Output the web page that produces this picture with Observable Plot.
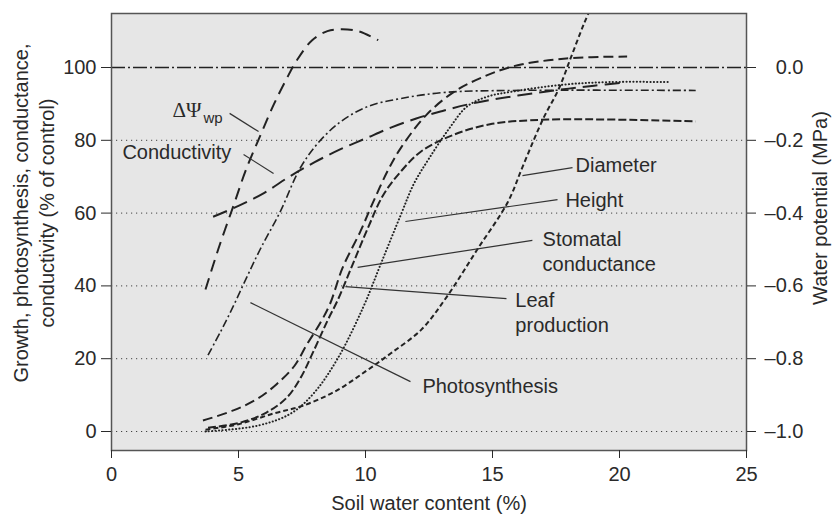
<!DOCTYPE html>
<html>
<head>
<meta charset="utf-8">
<script src="https://cdn.jsdelivr.net/npm/d3@7"></script>
<script src="https://cdn.jsdelivr.net/npm/@observablehq/plot@0.6"></script>
<style>
  html, body { margin: 0; padding: 0; background: #fff; }
</style>
</head>
<body>
<div id="chart"></div>
<script>
// ---- tick values ----
const xTicks = [0, 5, 10, 15, 20, 25];
const yTicks = [0, 20, 40, 60, 80, 100];
const gridTicks = [0, 20, 40, 60, 80];
const controlLevel = [100];

// ---- series: [soil water content %, % of control] ----
const deltaPsiWp = [[3.7,39],[4.2,50],[4.8,62],[5.3,72],[5.9,82],[6.4,90],[6.9,97],[7.3,102],[7.9,107.5],[8.5,110],[9.0,110.5],[9.7,110],[10.5,107.5]];
const conductivity = [[4,59],[5,62],[6,65.5],[7,70],[8,74],[9,77.5],[10,80.5],[11,83.5],[12,86],[13,88],[14,89.8],[15,91.2],[16,92.3],[17,93.3],[18,94.2],[19,95],[20.1,95.8]];
const photosynthesis = [[3.8,21],[4.3,27.5],[4.8,34.5],[5.3,42],[5.85,50],[6.65,60.5],[7.4,72],[8.1,79],[9,85],[10.1,89.3],[11.4,91.5],[13.2,93.2],[15.8,93.7],[23,93.7]];
const stomatalConductance = [[3.6,3],[4.8,5.8],[5.75,9],[6.5,13],[7.2,18],[7.7,24],[8.2,29.6],[8.6,35],[9.1,45],[9.8,55],[10.3,63],[10.9,72],[11.4,78],[12.4,87],[13.5,93.4],[14.5,97],[15.8,100.3],[17.9,102.5],[20.3,103]];
const leafProduction = [[3.8,1],[5.1,2.5],[6.1,5.2],[6.9,9.3],[7.45,14.8],[7.95,22],[8.5,30.4],[8.9,36],[9.5,46],[10.1,56],[10.7,65],[11.4,71.5],[12.2,77],[13.5,81.6],[14.9,84.4],[17.2,85.7],[23,85.2]];
const height = [[3.7,0],[5.75,1.6],[7.05,4.9],[7.95,10.4],[8.9,20],[9.9,34],[10.6,46],[11.4,59.7],[11.9,68],[12.5,75],[13.3,83.3],[14,89.3],[14.8,92],[15.8,93.4],[17.8,95.3],[19.6,96],[22,96]];
const diameter = [[3.7,0.5],[5,2],[6.4,5],[7.5,7],[8.8,11],[10,16.5],[11,21.5],[12.2,28],[13.2,37],[14.4,50],[15.6,63],[16.2,73],[17,86],[17.6,94],[18.1,103],[18.6,112],[19.1,120]];

// ---- annotation labels and leader lines (data coordinates) ----
const labelText = ["Conductivity", "Diameter", "Height", "Stomatal\nconductance", "Leaf\nproduction", "Photosynthesis"];
const labelX = [0.43, 18.27, 17.87, 16.97, 15.9, 12.24];
const labelY = [77.2, 73.6, 64.0, 49.7, 33.0, 12.9];
const leaderFrom = [[4.65,87.4],[5.2,76.1],[16.18,70.3],[11.57,57.7],[9.69,45.1],[9.21,39.8],[5.47,35.4]];
const leaderTo   = [[5.79,82.4],[6.38,70.9],[18.15,72.5],[17.56,63.7],[16.57,52.5],[15.55,36.5],[11.77,13.7]];
const psiLabel = {main: "ΔΨ", sub: "wp", x: 2.4, y: 88.2, subX: 3.62, subY: 86.0};

const labels = labelText.map((t, i) => ({t, x: labelX[i], y: labelY[i]}));
const leaders = leaderFrom.map((f, i) => ({x1: f[0], y1: f[1], x2: leaderTo[i][0], y2: leaderTo[i][1]}));

const ink = "#222";
function curve(data, dash, w, cap = "butt") {
  return Plot.line(data, {x: d => d[0], y: d => d[1], curve: "catmull-rom", stroke: ink, strokeWidth: w, strokeDasharray: dash, strokeLinecap: cap, clip: "frame"});
}
const fmtRight = d => { const v = (d - 100) / 100; return (v < -1e-9 ? "\u2013" : "") + Math.abs(v).toFixed(1); };

const chart = Plot.plot({
  width: 837,
  height: 519,
  marginLeft: 111,
  marginRight: 91,
  marginTop: 13,
  marginBottom: 69,
  x: {domain: [0, 25]},
  y: {domain: [-5.22, 114.84]},
  style: {fontFamily: "'Liberation Sans', Arial, sans-serif", fontSize: "20px", color: "#2a2a2a", background: "#fff", overflow: "visible"},
  marks: [
    Plot.frame({fill: "#e6e6e6", stroke: null}),
    Plot.ruleY(gridTicks, {stroke: "#444", strokeWidth: 1, strokeDasharray: "1.2,3.8"}),
    Plot.ruleY(controlLevel, {stroke: ink, strokeWidth: 1.3, strokeDasharray: "14,3,2,3"}),
    curve(deltaPsiWp, "12,7", 2),
    curve(conductivity, "15,7", 2),
    curve(photosynthesis, "8,3,2,3", 1.6),
    curve(stomatalConductance, "10,5", 2),
    curve(leafProduction, "8,3", 2),
    curve(height, "0.2,3.2", 2, "round"),
    curve(diameter, "5,3", 2),
    Plot.link(leaders, {x1: "x1", y1: "y1", x2: "x2", y2: "y2", stroke: "#333", strokeWidth: 1.2}),
    Plot.text(labels, {x: "x", y: "y", text: "t", textAnchor: "start", lineHeight: 1.25, fontSize: 20, fill: "#2a2a2a"}),
    Plot.text([psiLabel], {x: "x", y: "y", text: "main", textAnchor: "start", fontSize: 21, fontFamily: "'Liberation Serif', serif", fill: "#2a2a2a"}),
    Plot.text([psiLabel], {x: "subX", y: "subY", text: "sub", textAnchor: "start", fontSize: 15, fill: "#2a2a2a"}),
    Plot.frame({stroke: "#555", strokeWidth: 1.5}),
    Plot.axisX({ticks: xTicks, tickSize: 8, tickPadding: 8, label: null, fontSize: 20}),
    Plot.axisY({ticks: yTicks, tickSize: 10, tickPadding: 5, label: null, fontSize: 20}),
    Plot.axisY({anchor: "right", ticks: yTicks, tickSize: 9, tickPadding: 48, textAnchor: "end", tickFormat: fmtRight, label: null, fontSize: 20}),
    Plot.text(["Soil water content (%)"], {frameAnchor: "bottom", dy: 53, lineAnchor: "middle", textAnchor: "middle", fontSize: 20}),
    Plot.text(["Growth, photosynthesis, conductance,\nconductivity (% of control)"], {frameAnchor: "left", dx: -79, dy: -19, rotate: -90, textAnchor: "middle", lineAnchor: "middle", lineHeight: 1.3, fontSize: 20}),
    Plot.text(["Water potential (MPa)"], {frameAnchor: "right", dx: 74, dy: -24, rotate: -90, textAnchor: "middle", lineAnchor: "middle", fontSize: 20})
  ]
});
document.getElementById("chart").appendChild(chart);
</script>
</body>
</html>
